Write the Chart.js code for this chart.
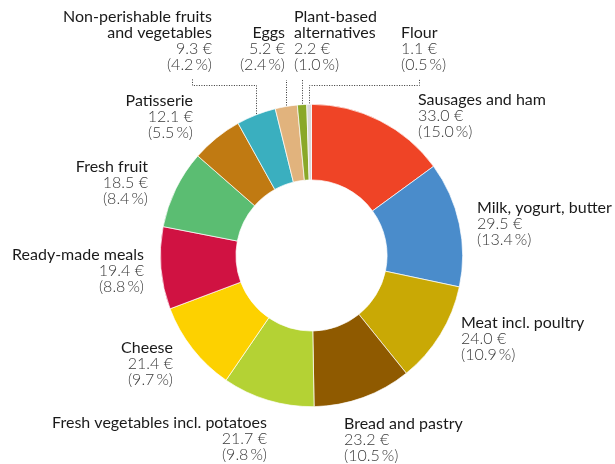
<!DOCTYPE html>
<html>
<head>
<meta charset="utf-8">
<script src="https://cdn.jsdelivr.net/npm/chart.js@4/dist/chart.umd.min.js"></script>
<style>
  html, body { margin: 0; padding: 0; background: #fff; }
  #wrap { width: 615px; height: 464px; position: relative; }
</style>
</head>
<body>
<div id="wrap"><canvas id="donut"></canvas></div>
<script>
// Spending per category (€), clockwise from 12 o'clock
const categories = [
  ["Sausages and ham"],
  ["Milk, yogurt, butter"],
  ["Meat incl. poultry"],
  ["Bread and pastry"],
  ["Fresh vegetables incl. potatoes"],
  ["Cheese"],
  ["Ready-made meals"],
  ["Fresh fruit"],
  ["Patisserie"],
  ["Non-perishable fruits", "and vegetables"],
  ["Eggs"],
  ["Plant-based", "alternatives"],
  ["Flour"]
];
const amounts = [33.0, 29.5, 24.0, 23.2, 21.7, 21.4, 19.4, 18.5, 12.1, 9.3, 5.2, 2.2, 1.1];
const shares = [15.0, 13.4, 10.9, 10.5, 9.8, 9.7, 8.8, 8.4, 5.5, 4.2, 2.4, 1.0, 0.5];
const colors = [
  "#ef4426", "#4a8ccb", "#c9a905", "#8f5a00", "#b4d234", "#fdd100", "#d01242",
  "#5bbd72", "#c07a12", "#3aafbf", "#e1b37d", "#8aa829", "#d9d9d9"
];

// label anchors (x, y of first line centre, alignment) - layout only
const labelPos = [
  { x: 418, y: 100, align: "left" },
  { x: 477, y: 208, align: "left" },
  { x: 461, y: 323, align: "left" },
  { x: 344, y: 424, align: "left" },
  { x: 267, y: 423, align: "right" },
  { x: 173, y: 348, align: "right" },
  { x: 144, y: 255, align: "right" },
  { x: 148, y: 167, align: "right" },
  { x: 193, y: 101, align: "right" },
  { x: 212, y: 17, align: "right" },
  { x: 285, y: 33, align: "right" },
  { x: 294, y: 17, align: "left" },
  { x: 401, y: 33, align: "left" }
];
// leader lines for the small slices: elbow height and end x (null = straight up)
const leaders = {
  9: { topY: 79, elbowY: 85, endX: 192 },
  10: { topY: 80 },
  11: { topY: 80 },
  12: { topY: 79, elbowY: 85, endX: 419 }
};

const LINE_H = 16;

const outsideLabels = {
  id: "outsideLabels",
  afterDraw(chart) {
    const ctx = chart.ctx;
    const arcs = chart.getDatasetMeta(0).data;
    ctx.save();

    // leader lines
    ctx.strokeStyle = "#333";
    ctx.lineWidth = 1;
    ctx.setLineDash([1, 1.5]);
    Object.keys(leaders).forEach(k => {
      const i = +k;
      const a = arcs[i];
      const mid = (a.startAngle + a.endAngle) / 2;
      const r = a.outerRadius + 1;
      const px = Math.round(a.x + Math.cos(mid) * r) + 0.5;
      const py = a.y + Math.sin(mid) * r;
      const L = leaders[k];
      ctx.beginPath();
      ctx.moveTo(px, py);
      if (L.elbowY != null) {
        ctx.lineTo(px, L.elbowY + 0.5);
        ctx.lineTo(L.endX + 0.5, L.elbowY + 0.5);
        ctx.lineTo(L.endX + 0.5, L.topY);
      } else {
        ctx.lineTo(px, L.topY);
      }
      ctx.stroke();
    });
    ctx.setLineDash([]);

    // texts
    ctx.textBaseline = "middle";
    categories.forEach((name, i) => {
      const p = labelPos[i];
      ctx.textAlign = p.align;
      let y = p.y;
      ctx.fillStyle = "#1a1a1a";
      ctx.font = "400 16px Lato";
      name.forEach(line => {
        ctx.fillText(line, p.x, y);
        y += LINE_H;
      });
      ctx.fillStyle = "#3a3a3a";
      ctx.font = "300 16px Lato";
      ctx.fillText(amounts[i].toFixed(1) + " €", p.x, y);
      y += LINE_H;
      ctx.fillText("(" + shares[i].toFixed(1) + "\u2009%)", p.x, y);
    });
    ctx.restore();
  }
};

new Chart(document.getElementById("donut"), {
  type: "doughnut",
  data: {
    labels: categories.map(c => c.join(" ")),
    datasets: [{
      data: amounts,
      backgroundColor: colors,
      borderColor: "#fff",
      borderWidth: 0.7
    }]
  },
  options: {
    responsive: true,
    maintainAspectRatio: false,
    animation: false,
    cutout: "50%",
    layout: { padding: { top: 104, bottom: 57, left: 160, right: 152 } },
    plugins: {
      legend: { display: false },
      tooltip: { enabled: false }
    }
  },
  plugins: [outsideLabels]
});
</script>
</body>
</html>
